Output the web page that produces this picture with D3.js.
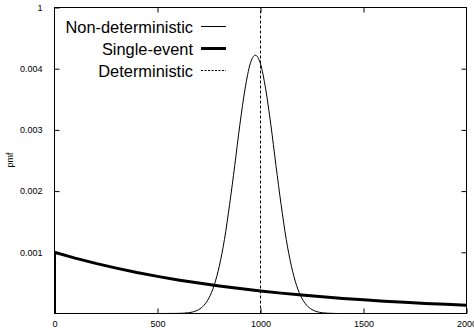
<!DOCTYPE html>
<html>
<head>
<meta charset="utf-8">
<script src="https://cdn.jsdelivr.net/npm/d3@7"></script>
<style>
  html, body { margin: 0; padding: 0; background: #fff; }
  svg { display: block; font-family: "Liberation Sans", Arial, Helvetica, sans-serif; }
</style>
</head>
<body>
<div id="chart"></div>
<script>
// Values.
const xTicks = [0, 500, 1000, 1500, 2000]
const yTicks = [0.001, 0.002, 0.003, 0.004, 0.005]
const yTickLabels = ['0.001', '0.002', '0.003', '0.004', '1']

// Non-deterministic: bell around 1000.
const nondetX = [0, 500, 600, 625, 650, 675, 700, 725, 750, 775, 800, 825, 850, 875, 900, 925, 950, 975,
  1000, 1025, 1050, 1075, 1100, 1125, 1150, 1175, 1200, 1225, 1250, 1275, 1300, 1325, 1350, 1375, 1400, 1500, 2000]
const nondetY = [0, 0, 0.000002, 0.000005, 0.000012, 0.000029, 0.000064, 0.000132, 0.000255, 0.00046, 0.000774,
  0.00121, 0.00178, 0.00242, 0.00309, 0.00367, 0.00408, 0.00422,
  0.00408, 0.00367, 0.00309, 0.00242, 0.00178, 0.00121, 0.000774, 0.00046, 0.000255, 0.000132, 0.000064,
  0.000029, 0.000012, 0.000005, 0.000002, 0, 0, 0]

// Single-event: drop from 0.001 at 0 down to ~0.000135 at 2000.
const singleX = [0, 0, 100, 200, 300, 400, 500, 600, 700, 800, 900, 1000, 1100, 1200, 1300, 1400, 1500, 1600, 1700, 1800, 1900, 2000]
const singleY = [0, 0.001, 0.000905, 0.000819, 0.000741, 0.00067, 0.000607, 0.000549, 0.000497, 0.000449, 0.000407,
  0.000368, 0.000333, 0.000301, 0.000273, 0.000247, 0.000223, 0.000202, 0.000183, 0.000165, 0.00015, 0.000135]

// Deterministic: a spike at 1000.
const detX = [1000, 1000]
const detY = [0, 0.005]

const legendLabels = ['Non-deterministic', 'Single-event', 'Deterministic']

const width = 474
const height = 328
const margin = { top: 7.5, right: 7.5, bottom: 14.5, left: 54.5 }

const svg = d3.select('#chart').append('svg')
  .attr('width', width)
  .attr('height', height)

const x = d3.scaleLinear().domain([0, 2000]).range([margin.left, width - margin.right])
const y = d3.scaleLinear().domain([0, 0.005]).range([height - margin.bottom, margin.top])

const tickLen = 5

// Frame.
svg.append('rect')
  .attr('x', x(0)).attr('y', y(0.005))
  .attr('width', x(2000) - x(0)).attr('height', y(0) - y(0.005))
  .attr('fill', 'none').attr('stroke', '#000').attr('stroke-width', 1)

// Bottom axis.
const xAxis = svg.append('g')
  .attr('transform', `translate(0,${y(0)})`)
  .call(d3.axisBottom(x).tickValues(xTicks).tickSize(-tickLen).tickPadding(7).tickFormat(d3.format('d')))
xAxis.select('.domain').remove()
xAxis.selectAll('text').attr('font-size', 9).attr('fill', '#000').attr('font-family', null)

// Top mirror ticks.
const xTop = svg.append('g')
  .attr('transform', `translate(0,${y(0.005)})`)
  .call(d3.axisTop(x).tickValues(xTicks.slice(1, -1)).tickSize(-tickLen).tickFormat(''))
xTop.select('.domain').remove()

// Left axis.
const yAxis = svg.append('g')
  .attr('transform', `translate(${x(0)},0)`)
  .call(d3.axisLeft(y).tickValues(yTicks).tickSize(-tickLen).tickPadding(12)
    .tickFormat((d, i) => yTickLabels[i]))
yAxis.select('.domain').remove()
yAxis.selectAll('text').attr('font-size', 9).attr('fill', '#000').attr('font-family', null)

// Right mirror ticks.
const yRight = svg.append('g')
  .attr('transform', `translate(${x(2000)},0)`)
  .call(d3.axisRight(y).tickValues(yTicks.slice(0, -1)).tickSize(-tickLen).tickFormat(''))
yRight.select('.domain').remove()

svg.append('text')
  .attr('transform', `translate(13,160) rotate(-90)`)
  .attr('text-anchor', 'middle')
  .attr('font-size', 9)
  .text('pmf')

const line = d3.line().x(d => x(d[0])).y(d => y(d[1]))
const smooth = d3.line().x(d => x(d[0])).y(d => y(d[1])).curve(d3.curveMonotoneX)

const clip = svg.append('defs').append('clipPath').attr('id', 'plot')
clip.append('rect')
  .attr('x', x(0)).attr('y', y(0.005))
  .attr('width', x(2000) - x(0)).attr('height', y(0) - y(0.005))

const plot = svg.append('g').attr('clip-path', 'url(#plot)')

plot.append('path')
  .datum(detX.map((v, i) => [v, detY[i]]))
  .attr('d', line)
  .attr('fill', 'none').attr('stroke', '#000').attr('stroke-width', 1)
  .attr('stroke-dasharray', '3,2')

plot.append('path')
  .datum(nondetX.map((v, i) => [v, nondetY[i]]))
  .attr('d', smooth)
  .attr('fill', 'none').attr('stroke', '#000').attr('stroke-width', 1)

plot.append('path')
  .datum(singleX.map((v, i) => [v, singleY[i]]))
  .attr('d', line)
  .attr('fill', 'none').attr('stroke', '#000').attr('stroke-width', 3)

// Legend.
const legendStyles = [
  { w: 1, dash: null },
  { w: 3, dash: null },
  { w: 1, dash: '2,1.5' }
]
const legend = svg.append('g')
legendLabels.forEach((label, i) => {
  const cy = 26.5 + i * 22
  legend.append('text')
    .attr('x', 193).attr('y', cy + 6)
    .attr('text-anchor', 'end')
    .attr('font-size', 16.4)
    .text(label)
  legend.append('line')
    .attr('x1', 201).attr('x2', 226)
    .attr('y1', cy).attr('y2', cy)
    .attr('stroke', '#000')
    .attr('stroke-width', legendStyles[i].w)
    .attr('stroke-dasharray', legendStyles[i].dash)
})
</script>
</body>
</html>
